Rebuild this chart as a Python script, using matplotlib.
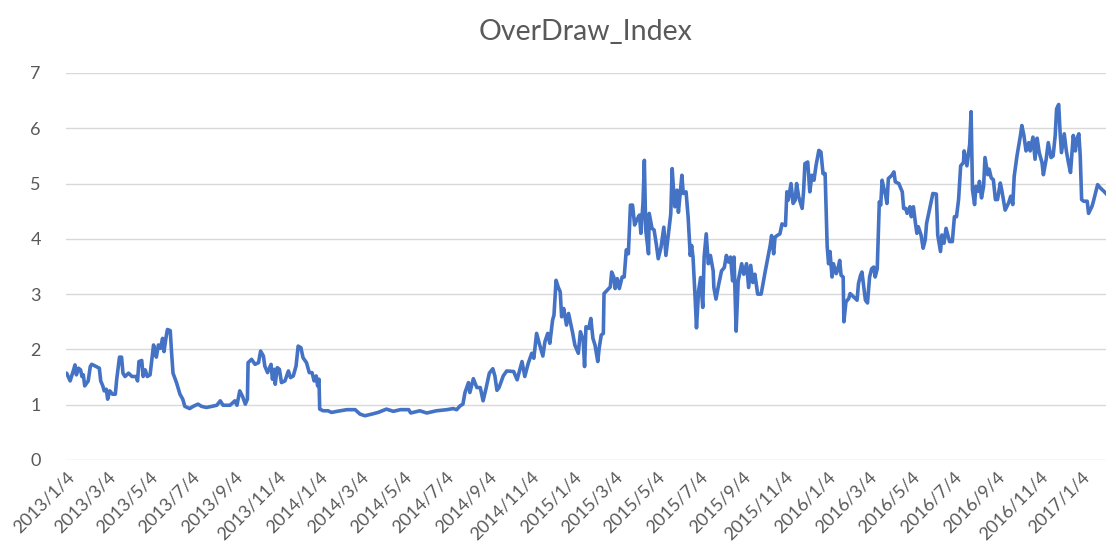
import matplotlib
matplotlib.use("Agg")
import matplotlib.pyplot as plt
import numpy as np
import pandas as pd

# days since 2013/1/4 and index value
start_date = "2013-01-04"

day_offset = [
    1, 6, 11, 13, 15, 18, 21, 23, 25, 27, 32, 35, 37, 42, 48, 50, 53, 55, 58, 60,
    63, 67, 71, 73, 77, 80, 82, 85, 90, 95, 101, 103, 105, 109, 111, 114, 117, 121, 123, 126,
    128, 130, 133, 136, 139, 141, 144, 146, 150, 152, 154, 159, 164, 168, 171, 178, 183, 190, 195, 202,
    210, 217, 222, 226, 236, 243, 246, 250, 254, 258, 261,
    262, 267, 272, 277, 280, 284, 286, 290, 295, 297, 300, 301, 304, 307, 310, 315, 320, 323, 327, 331,
    334, 338, 341, 346, 350, 354, 357, 360, 362, 364, 365, 370, 377, 382, 390, 404, 416, 423, 430, 440,
    449, 461, 471, 481, 493, 496, 509, 519, 533, 548, 557, 562, 567, 571, 574, 579, 581, 586, 591, 596,
    600, 604, 609, 614, 617, 620, 623, 629, 634,
    644, 649, 656, 660, 665, 670, 673, 677, 681, 686, 689, 693, 696, 700, 702, 705, 708, 711, 713, 716,
    720, 723, 725, 729, 732, 737, 740, 744, 746, 748, 752, 755, 758, 761, 765, 767, 770, 773, 774, 783,
    785, 788, 790, 793, 796, 800, 803, 806, 809, 812, 815, 818, 821, 825, 827, 830, 832, 834, 838, 839,
    843, 846, 849, 852,
    856, 860, 863, 867, 870, 872, 874, 876, 879, 881, 884, 886, 888, 892, 895, 898, 900, 902, 905, 907,
    910, 913, 916, 918, 921, 924, 927, 931, 932, 935, 939, 943, 947, 950, 953, 956, 959, 961, 964, 967,
    972, 975, 979, 982, 985, 988, 991, 995, 1000, 1006, 1013, 1015, 1018, 1020, 1023, 1027, 1030, 1035, 1037, 1039,
    1043, 1046, 1049, 1051, 1054,
    1059, 1061, 1063, 1067, 1070, 1073, 1076, 1079, 1083, 1086, 1089, 1092, 1095, 1097, 1099, 1102, 1104, 1108, 1110, 1113,
    1115, 1118, 1119, 1122, 1126, 1128, 1138, 1140, 1143, 1145, 1147, 1150, 1153, 1156, 1159, 1162, 1164, 1167, 1170, 1172,
    1174, 1176, 1179, 1181, 1183, 1188, 1191, 1193, 1198, 1203, 1205, 1208, 1210, 1214, 1216, 1219, 1222, 1224, 1226, 1230,
    1233, 1236, 1238, 1243, 1247, 1252, 1254, 1258, 1260, 1263, 1266, 1271,
    1275, 1278, 1281, 1284, 1287, 1291, 1292, 1296, 1300, 1302, 1304, 1307, 1309, 1312, 1314, 1317, 1320, 1322, 1326, 1328,
    1331, 1334, 1337, 1340, 1344, 1346, 1351, 1356, 1359, 1362, 1364, 1368, 1373, 1375, 1378, 1381, 1385, 1387, 1391, 1394,
    1397, 1400, 1404, 1406, 1410, 1413, 1417, 1420, 1423, 1425, 1428, 1430, 1432, 1436, 1439, 1442, 1445, 1447, 1449, 1452,
    1454, 1457, 1459, 1461, 1464, 1469, 1471, 1476, 1478, 1484, 1488, 1493, 1496,
]

overdraw_index = [
    1.57, 1.43, 1.63, 1.72, 1.54, 1.66, 1.63, 1.51, 1.54, 1.34, 1.43, 1.69, 1.73, 1.70, 1.66, 1.43, 1.34, 1.25, 1.28, 1.10,
    1.25, 1.19, 1.19, 1.46, 1.86, 1.86, 1.57, 1.51, 1.57, 1.51, 1.51, 1.43, 1.78, 1.80, 1.51, 1.63, 1.51, 1.54, 1.75, 2.08,
    1.99, 1.86, 2.08, 2.02, 2.20, 1.96, 2.22, 2.36, 2.34, 1.93, 1.57, 1.40, 1.19, 1.10, 0.97, 0.93, 0.97, 1.01, 0.97, 0.95,
    0.97, 0.99, 1.07, 0.99, 0.99, 1.07, 0.99, 1.25, 1.15, 1.01, 1.10,
    1.76, 1.82, 1.73, 1.76, 1.97, 1.88, 1.70, 1.58, 1.73, 1.46, 1.64, 1.37, 1.67, 1.64, 1.40, 1.43, 1.61, 1.49, 1.52, 1.70,
    2.06, 2.03, 1.85, 1.76, 1.58, 1.58, 1.43, 1.52, 1.34, 1.46, 0.92, 0.89, 0.89, 0.86, 0.88, 0.91, 0.91, 0.83, 0.80, 0.83,
    0.86, 0.92, 0.88, 0.91, 0.91, 0.85, 0.89, 0.85, 0.89, 0.91, 0.93, 0.91, 0.98, 1.01, 1.22, 1.40, 1.22, 1.47, 1.31, 1.31,
    1.07, 1.28, 1.57, 1.65, 1.52, 1.26, 1.31, 1.52, 1.61,
    1.60, 1.45, 1.78, 1.51, 1.75, 1.93, 1.84, 2.29, 2.10, 1.88, 2.14, 2.29, 2.11, 2.53, 2.62, 3.25, 3.13, 3.04, 2.59, 2.74,
    2.44, 2.65, 2.53, 2.29, 2.08, 1.93, 2.32, 2.17, 1.69, 2.41, 2.38, 2.56, 2.20, 2.08, 1.78, 2.02, 2.26, 2.29, 3.01, 3.13,
    3.40, 3.31, 3.10, 3.28, 3.10, 3.31, 3.31, 3.80, 3.73, 4.61, 4.61, 4.25, 4.34, 4.43, 4.10, 4.64, 5.42, 4.16, 3.73, 4.46,
    4.19, 4.16, 3.92, 3.64,
    3.85, 4.21, 3.70, 4.12, 4.45, 5.27, 4.88, 4.58, 4.88, 4.48, 4.88, 5.15, 4.82, 4.85, 4.39, 3.70, 3.88, 3.67, 2.94, 2.39,
    3.06, 3.30, 2.76, 3.67, 4.09, 3.55, 3.70, 3.42, 3.12, 2.91, 3.18, 3.42, 3.48, 3.70, 3.58, 3.67, 3.24, 3.67, 2.33, 3.24,
    3.55, 3.36, 3.55, 3.12, 3.52, 3.21, 3.36, 3.00, 3.00, 3.42, 3.88, 4.06, 3.73, 4.03, 4.06, 4.09, 4.27, 4.24, 4.85, 4.70,
    5.00, 4.64, 4.70, 5.00, 4.76,
    4.55, 4.85, 5.36, 5.39, 4.85, 5.15, 5.06, 5.33, 5.60, 5.57, 5.18, 5.18, 3.86, 3.55, 3.77, 3.31, 3.55, 3.37, 3.43, 3.61,
    3.34, 3.31, 2.50, 2.86, 2.92, 3.01, 2.89, 3.19, 3.34, 3.40, 3.19, 2.89, 2.84, 3.31, 3.46, 3.49, 3.31, 3.46, 4.67, 4.61,
    5.06, 4.94, 4.79, 4.64, 5.09, 5.15, 5.21, 5.03, 5.00, 4.85, 4.55, 4.55, 4.46, 4.58, 4.40, 4.58, 4.28, 4.10, 4.22, 4.07,
    3.83, 3.98, 4.28, 4.58, 4.82, 4.81, 4.07, 3.77, 4.07, 3.92, 4.19, 3.95,
    3.95, 4.40, 4.40, 4.71, 5.32, 5.38, 5.59, 5.32, 5.71, 6.30, 4.89, 4.62, 4.95, 4.86, 5.04, 4.74, 4.95, 5.47, 5.16, 5.26,
    5.10, 5.07, 4.71, 4.71, 5.01, 4.89, 4.52, 4.65, 4.77, 4.62, 5.13, 5.50, 5.87, 6.05, 5.87, 5.59, 5.74, 5.59, 5.84, 5.44,
    5.82, 5.56, 5.38, 5.16, 5.44, 5.74, 5.47, 5.50, 5.87, 6.35, 6.43, 5.93, 5.56, 5.90, 5.59, 5.38, 5.20, 5.53, 5.87, 5.59,
    5.80, 5.90, 5.50, 4.71, 4.68, 4.68, 4.46, 4.59, 4.68, 4.98, 4.92, 4.86, 4.82,
]

# axis labels every two months, on the 4th
tick_dates = pd.date_range("2013-01-01", "2017-01-01", freq="2MS") + pd.Timedelta(days=3)

dates = pd.Timestamp(start_date) + pd.to_timedelta([0] + day_offset, unit="D")
values = [overdraw_index[0]] + overdraw_index

plt.rcParams["font.family"] = ["Lato", "DejaVu Sans"]
text_color = "#595959"

fig = plt.figure(figsize=(11.16, 5.52), dpi=100)
ax = fig.add_axes([0.0591, 0.1667, 0.9319, 0.7011])

ax.plot(dates, values, color="#4472C4", lw=2.6, solid_joinstyle="round")

ax.set_ylim(0, 7)
ax.set_yticks(range(0, 8))
ax.set_xlim(dates[0], dates[-1])
ax.set_xticks(tick_dates)
ax.set_xticklabels([f"{d.year}/{d.month}/{d.day}" for d in tick_dates],
                   rotation=45, ha="right", rotation_mode="anchor")

ax.grid(axis="y", color="#D9D9D9", lw=1.0)
ax.set_axisbelow(True)
for s in ax.spines.values():
    s.set_visible(False)
ax.tick_params(axis="both", length=0, labelsize=13, colors=text_color)
ax.tick_params(axis="y", pad=18)
ax.tick_params(axis="x", pad=6)

ax.set_title("OverDraw_Index", fontsize=20.5, color=text_color, pad=24)

fig.savefig("out.png", dpi=100)
